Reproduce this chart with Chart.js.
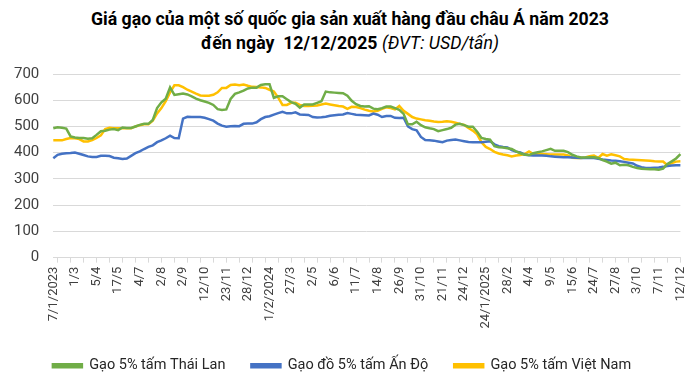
<!DOCTYPE html>
<html>
<head>
<meta charset="utf-8">
<script src="https://cdn.jsdelivr.net/npm/chart.js@4.4.0/dist/chart.umd.min.js"></script>
<style>
  body { margin: 0; width: 700px; height: 389px; background: #fff; overflow: hidden; position: relative; }
  #title { position: absolute; top: 7px; left: 0; width: 700px; text-align: center;
           font-family: Roboto, sans-serif; font-size: 17.7px; font-weight: bold; line-height: 24px; color: #000; }
  #title i { font-weight: normal; }
  #wrap { position: absolute; left: 0; top: 0; width: 700px; height: 389px; }
</style>
</head>
<body>
<div id="title">Giá gạo của một số quốc gia sản xuất hàng đầu châu Á năm 2023<br>đến ngày&nbsp;&nbsp;12/12/2025 <i>(ĐVT: USD/tấn)</i></div>
<div id="wrap"><canvas id="myChart"></canvas></div>
<script>
// nhãn trục hoành, cứ 5 điểm tuần một nhãn
const tickLabels = ['7/1/2023', '1/3', '5/4', '17/5', '4/7', '2/8', '2/9', '12/10', '23/11', '28/12',
  '1/2/2024', '27/3', '2/5', '6/6', '11/7', '14/8', '26/9', '31/10', '21/11', '24/12',
  '24/1/2025', '28/2', '4/4', '9/5', '15/6', '24/7', '27/8', '3/10', '7/11', '12/12'];

const thaiLan = [493, 497, 495, 492, 462, 458, 456, 456, 453, 455,
  468, 482, 484, 488, 490, 486, 496, 494, 494, 500,
  506, 510, 510, 525, 570, 592, 606, 649, 620, 623,
  626, 622, 615, 606, 600, 595, 590, 582, 566, 563,
  565, 605, 624, 630, 637, 645, 648, 648, 658, 661,
  661, 609, 615, 615, 604, 593, 586, 572, 584, 584,
  584, 590, 596, 633, 630, 629, 628, 627, 617, 598,
  585, 578, 576, 577, 568, 566, 570, 576, 576, 570,
  563, 548, 508, 508, 518, 505, 497, 493, 490, 482,
  486, 490, 495, 507, 510, 505, 499, 499, 480, 456,
  452, 450, 425, 421, 420, 417, 414, 405, 398, 392,
  391, 398, 402, 405, 410, 415, 407, 407, 407, 402,
  392, 386, 382, 382, 383, 383, 380, 372, 366, 358,
  362, 352, 354, 352, 346, 342, 339, 338, 337, 337,
  335, 339, 357, 367, 378, 395];

const anDo = [379, 392, 396, 398, 399, 401, 396, 391, 386, 384,
  384, 388, 388, 387, 381, 379, 376, 378, 388, 398,
  405, 414, 422, 428, 440, 447, 455, 465, 456, 455,
  530, 537, 536, 536, 536, 533, 528, 522, 511, 503,
  499, 501, 502, 501, 510, 511, 511, 516, 528, 536,
  539, 545, 551, 556, 550, 550, 554, 546, 545, 544,
  536, 534, 535, 537, 541, 543, 545, 546, 551, 548,
  545, 544, 543, 542, 549, 545, 536, 540, 540, 533,
  532, 533, 500, 490, 485, 460, 448, 447, 446, 443,
  440, 446, 448, 450, 447, 444, 441, 440, 440, 440,
  442, 444, 432, 425, 422, 420, 410, 404, 401, 393,
  390, 389, 389, 389, 388, 386, 385, 384, 383, 383,
  382, 381, 380, 380, 380, 380, 377, 374, 372, 370,
  369, 367, 365, 362, 359, 350, 345, 342, 342, 343,
  344, 346, 349, 351, 352, 352];

const vietNam = [447, 447, 447, 452, 456, 455, 452, 443, 443, 448,
  456, 466, 490, 495, 493, 493, 493, 493, 493, 500,
  505, 508, 508, 522, 550, 570, 597, 630, 657, 657,
  650, 640, 633, 625, 618, 617, 617, 621, 630, 647,
  647, 658, 660, 657, 660, 655, 651, 650, 649, 647,
  640, 633, 610, 582, 582, 590, 590, 582, 578, 578,
  579, 580, 584, 587, 584, 581, 578, 576, 567, 575,
  574, 570, 564, 560, 557, 560, 567, 573, 570, 565,
  578, 560, 548, 536, 530, 527, 524, 522, 519, 517,
  518, 520, 518, 514, 510, 506, 494, 484, 470, 440,
  422, 414, 403, 397, 393, 390, 386, 389, 391, 395,
  405, 395, 395, 395, 394, 393, 393, 393, 393, 390,
  381, 380, 380, 382, 387, 389, 380, 395, 389, 394,
  390, 386, 376, 374, 373, 372, 371, 370, 369, 367,
  366, 366, 352, 360, 366, 367];

const labels = thaiLan.map((_, i) => (i % 5 === 0 ? tickLabels[i / 5] : ''));

const ctx = document.getElementById('myChart').getContext('2d');
Chart.defaults.font.family = 'Roboto, sans-serif';
Chart.defaults.color = '#404040';

new Chart(ctx, {
  type: 'line',
  data: {
    labels: labels,
    datasets: [
      { label: 'Gạo 5% tấm Thái Lan', data: thaiLan, borderColor: '#70AD47', backgroundColor: '#70AD47' },
      { label: 'Gạo đồ 5% tấm Ấn Độ', data: anDo, borderColor: '#4472C4', backgroundColor: '#4472C4' },
      { label: 'Gạo 5% tấm Việt Nam', data: vietNam, borderColor: '#FFC000', backgroundColor: '#FFC000' }
    ]
  },
  options: {
    responsive: true,
    maintainAspectRatio: false,
    animation: false,
    layout: { padding: { top: 74, left: 0, right: 16, bottom: 6 } },
    elements: {
      point: { radius: 0 },
      line: { borderWidth: 2.5, tension: 0 }
    },
    plugins: {
      legend: {
        position: 'bottom',
        labels: { boxWidth: 29, boxHeight: 3, font: { size: 14.5 }, color: '#262626', padding: 26 }
      },
      tooltip: { enabled: false }
    },
    scales: {
      x: {
        offset: false,
        border: { color: '#d9d9d9' },
        grid: {
          drawOnChartArea: false,
          tickLength: 5,
          color: c => (c.index % 3 === 1 ? '#d9d9d9' : 'rgba(0,0,0,0)')
        },
        ticks: {
          autoSkip: false,
          minRotation: 90,
          maxRotation: 90,
          font: { size: 13 },
          padding: 4,
          callback: (v, i) => labels[i]
        }
      },
      y: {
        min: 0,
        max: 700,
        border: { display: false },
        grid: { color: '#d9d9d9', drawTicks: false },
        ticks: { stepSize: 100, font: { size: 15 }, padding: 14 }
      }
    }
  }
});
</script>
</body>
</html>
